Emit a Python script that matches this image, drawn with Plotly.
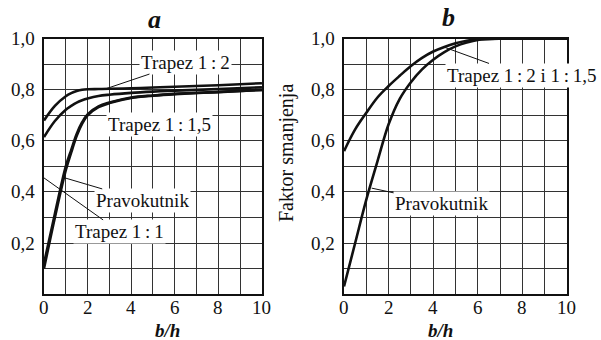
import plotly.graph_objects as go

# Panel a: reduction factor vs b/h for several cross-section shapes
bh_a = [0, 0.5, 1, 1.25, 1.5, 1.75, 2, 2.5, 3, 4, 5, 6, 8, 10]
trapez_12_a = [0.68, 0.737, 0.775, 0.787, 0.795, 0.80, 0.802, 0.803, 0.804, 0.806, 0.809, 0.812, 0.818, 0.826]
trapez_115_a = [0.615, 0.678, 0.722, 0.737, 0.75, 0.759, 0.766, 0.776, 0.781, 0.788, 0.793, 0.797, 0.803, 0.81]
pravokutnik_a = [0.10, 0.30, 0.485, 0.555, 0.62, 0.668, 0.70, 0.732, 0.748, 0.768, 0.777, 0.783, 0.791, 0.80]
trapez_11_a = [0.12, 0.315, 0.50, 0.565, 0.627, 0.673, 0.704, 0.735, 0.75, 0.77, 0.778, 0.784, 0.792, 0.80]

# Panel b
bh_b = [0, 0.5, 1, 1.5, 2, 2.5, 3, 3.5, 4, 4.5, 5, 5.5, 6, 7, 8, 10]
trapez_b = [0.56, 0.645, 0.71, 0.77, 0.815, 0.855, 0.893, 0.925, 0.95, 0.968, 0.982, 0.992, 0.998, 1.0, 1.0, 1.0]
pravokutnik_b = [0.03, 0.20, 0.37, 0.52, 0.665, 0.765, 0.83, 0.88, 0.918, 0.948, 0.97, 0.985, 0.995, 1.0, 1.0, 1.0]

x_ticks = [0, 2, 4, 6, 8, 10]
y_ticks = [0.2, 0.4, 0.6, 0.8, 1.0]
x_tick_text = [str(v) for v in x_ticks]
y_tick_text = [f"{v:.1f}".replace(".", ",") for v in y_ticks]

SERIF = "Liberation Serif, Times New Roman, DejaVu Serif, serif"
INK = "#111111"
GRID = "#333333"
TS = "\u2009"  # thin space around the ratio colon

W, H = 601, 340
PANEL_A_X = [0.0732, 0.4359]
PANEL_B_X = [0.5724, 0.9434]
PANEL_Y = [0.135, 0.886]
TICK_FONT = dict(family=SERIF, size=19, color=INK)

fig = go.Figure()

def curve(x, y, xa, ya, name):
    fig.add_trace(go.Scatter(
        x=x, y=y, xaxis=xa, yaxis=ya, mode="lines", name=name,
        line=dict(color=INK, width=2.6, shape="spline", smoothing=1.0),
        showlegend=False, hoverinfo="skip"))

curve(bh_a, trapez_12_a, "x", "y", "Trapez 1:2")
curve(bh_a, trapez_115_a, "x", "y", "Trapez 1:1,5")
curve(bh_a, pravokutnik_a, "x", "y", "Pravokutnik")
curve(bh_a, trapez_11_a, "x", "y", "Trapez 1:1")
curve(bh_b, trapez_b, "x2", "y2", "Trapez 1:2 i 1:1,5")
curve(bh_b, pravokutnik_b, "x2", "y2", "Pravokutnik")

xaxis_common = dict(
    range=[0, 10], tickvals=x_ticks, showticklabels=False, showgrid=True, gridcolor=GRID, gridwidth=1,
    minor=dict(dtick=1, showgrid=True, gridcolor=GRID, gridwidth=1),
    showline=True, linecolor=INK, linewidth=2, mirror=True, zeroline=False, ticks="",
)
yaxis_common = dict(
    range=[0, 1.0], tickvals=y_ticks, showticklabels=False, showgrid=True, gridcolor=GRID, gridwidth=1,
    minor=dict(dtick=0.1, showgrid=True, gridcolor=GRID, gridwidth=1),
    showline=True, linecolor=INK, linewidth=2, mirror=True, zeroline=False, ticks="",
)

fig.update_layout(
    width=W, height=H,
    margin=dict(l=0, r=0, t=0, b=0),
    paper_bgcolor="white", plot_bgcolor="white",
    font=dict(family=SERIF, color=INK),
    xaxis=dict(domain=PANEL_A_X, anchor="y", **xaxis_common),
    yaxis=dict(domain=PANEL_Y, anchor="x", **yaxis_common),
    xaxis2=dict(domain=PANEL_B_X, anchor="y2", **xaxis_common),
    yaxis2=dict(domain=PANEL_Y, anchor="x2", **yaxis_common),
)

# tick labels, placed just outside each panel
for xa, ya in (("x", "y"), ("x2", "y2")):
    for v, t in zip(x_ticks, x_tick_text):
        fig.add_annotation(text=t, xref=xa, yref="paper", x=v, y=(H - 307) / H,
                           yanchor="middle", showarrow=False, font=TICK_FONT)
    for v, t in zip(y_ticks, y_tick_text):
        fig.add_annotation(text=t, xref=f"{xa} domain", yref=ya, x=0, y=v, xshift=-7,
                           xanchor="right", yanchor="middle", showarrow=False, font=TICK_FONT)

# x-axis captions under each panel
for dom in (PANEL_A_X, PANEL_B_X):
    fig.add_annotation(text="<b><i>b/h</i></b>", xref="paper", yref="paper",
                       x=sum(dom) / 2, y=(H - 330) / H, yanchor="middle", showarrow=False,
                       font=dict(family=SERIF, size=19, color=INK))

# shared y-axis caption between the panels
fig.add_annotation(text="Faktor smanjenja", xref="paper", yref="paper",
                   x=287 / W, y=(H - 153) / H, textangle=-90, showarrow=False,
                   font=dict(family=SERIF, size=20, color=INK))

label_font = dict(family=SERIF, size=19, color=INK)

def label(text, xref, yref, x, y, ax=None, ay=None):
    if ax is None:
        fig.add_annotation(text=text, xref=xref, yref=yref, x=x, y=y, showarrow=False,
                           font=label_font, bgcolor="white", borderpad=1)
    else:
        fig.add_annotation(text=text, xref=xref, yref=yref, x=x, y=y, showarrow=True,
                           arrowhead=0, arrowwidth=1, arrowcolor=INK, ax=ax, ay=ay,
                           axref="pixel", ayref="pixel",
                           font=label_font, bgcolor="white", borderpad=1)

# panel a labels
label(f"Trapez 1{TS}:{TS}2", "x", "y", 2.8, 0.803, ax=80, ay=-27)
label(f"Trapez 1{TS}:{TS}1,5", "x", "y", 5.28, 0.663)
label("Pravokutnik", "x", "y", 0.96, 0.455, ax=78, ay=23)
label(f"Trapez 1{TS}:{TS}1", "x", "y", 0.0, 0.455, ax=76, ay=54)

# panel b labels
label(f"Trapez 1{TS}:{TS}2 i 1{TS}:{TS}1,5", "x2", "y2", 4.53, 0.966, ax=77, ay=28)
label("Pravokutnik", "x2", "y2", 1.24, 0.415, ax=70, ay=15)

# panel letters
title_font = dict(family=SERIF, size=26, color=INK)
fig.add_annotation(text="<b><i>a</i></b>", xref="paper", yref="paper",
                   x=146 / W, y=(H - 19) / H, yanchor="middle", showarrow=False, font=title_font)
fig.add_annotation(text="<b><i>b</i></b>", xref="paper", yref="paper",
                   x=457 / W, y=(H - 17) / H, yanchor="middle", showarrow=False, font=title_font)

fig.write_html("out.html")
